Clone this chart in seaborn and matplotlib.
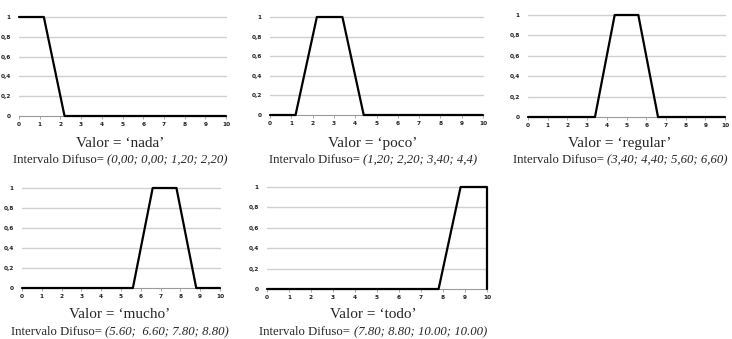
import numpy as np
import pandas as pd
import seaborn as sns
import matplotlib.pyplot as plt

# Membership functions (trapezoids) for each linguistic value
labels = ["nada", "poco", "regular", "mucho", "todo"]
x_nada = [0, 1.2, 2.2, 10]
y_nada = [1, 1, 0, 0]
x_poco = [0, 1.2, 2.2, 3.4, 4.4, 10]
y_poco = [0, 0, 1, 1, 0, 0]
x_regular = [0, 3.4, 4.4, 5.6, 6.6, 10]
y_regular = [0, 0, 1, 1, 0, 0]
x_mucho = [0, 5.6, 6.6, 7.8, 8.8, 10]
y_mucho = [0, 0, 1, 1, 0, 0]
x_todo = [0, 7.8, 8.8, 10, 10]
y_todo = [0, 0, 1, 1, 0]
intervals = ["(0,00; 0,00; 1,20; 2,20)",
             "(1,20; 2,20; 3,40; 4,4)",
             "(3,40; 4,40; 5,60; 6,60)",
             "(5.60;  6.60; 7.80; 8.80)",
             "(7.80; 8.80; 10.00; 10.00)"]
xticks = list(range(0, 11))
yticks = [0, 0.2, 0.4, 0.6, 0.8, 1]
ytick_labels = ["0", "0,2", "0,4", "0,6", "0,8", "1"]

series = [(x_nada, y_nada), (x_poco, y_poco), (x_regular, y_regular),
          (x_mucho, y_mucho), (x_todo, y_todo)]

sns.set_style("white")

W, H = 732, 339
fig = plt.figure(figsize=(W / 100, H / 100), dpi=100)

# axes boxes in pixels: left, right, top (y=1), bottom (y=0)
boxes = [(19, 226, 17, 116), (270, 483, 17, 115), (528, 725, 15, 117),
         (22, 220, 188, 288), (267, 487, 187, 289)]
# title / subtitle centres in pixels
title_pos = [(120, 143, 160), (373, 143, 160), (620, 143, 160),
             (120, 314, 332), (373, 314, 332)]

serif = "Liberation Serif"

for i, (lab, (xs, ys)) in enumerate(zip(labels, series)):
    l, r, t, b = boxes[i]
    ax = fig.add_axes([l / W, 1 - b / H, (r - l) / W, (b - t) / H])
    df = pd.DataFrame({"x": xs, "y": ys})
    sns.lineplot(data=df, x="x", y="y", ax=ax, color="black", linewidth=1.6,
                 estimator=None, sort=False, clip_on=False, zorder=5)
    ax.set_xlim(0, 10)
    ax.set_ylim(0, 1)
    ax.set_xticks(xticks)
    ax.set_xticklabels([str(v) for v in xticks])
    ax.set_yticks(yticks)
    ax.set_yticklabels(ytick_labels)
    ax.set_xlabel("")
    ax.set_ylabel("")
    for yv in yticks[1:]:
        ax.axhline(yv, color="#d0d0d0", linewidth=1.0, zorder=1, clip_on=False)
    for s in ["top", "right", "left"]:
        ax.spines[s].set_visible(False)
    ax.spines["bottom"].set_color("#9a9a9a")
    ax.spines["bottom"].set_linewidth(0.8)
    ax.tick_params(axis="x", length=2, width=0.6, color="#9a9a9a", pad=2,
                   labelsize=4.2, labelcolor="#222222", bottom=True)
    ax.tick_params(axis="y", length=0, pad=6, labelsize=4.2, labelcolor="#222222")
    for tl in ax.get_xticklabels() + ax.get_yticklabels():
        tl.set_fontweight("bold")
    ax.patch.set_alpha(0)

    cx, ty, sy = title_pos[i]
    fig.text(cx / W, 1 - ty / H, "Valor = \u2018" + lab + "\u2019", ha="center",
             va="center", fontsize=11, family=serif)

# subtitles: normal prefix + italic interval, centred together
fig.canvas.draw()
renderer = fig.canvas.get_renderer()
for i in range(5):
    cx, ty, sy = title_pos[i]
    t1 = fig.text(0, 1 - sy / H, "Intervalo Difuso= ", ha="left", va="center",
                  fontsize=9.2, family=serif)
    t2 = fig.text(0, 1 - sy / H, intervals[i], ha="left", va="center",
                  fontsize=9.2, family=serif, style="italic")
    w1 = t1.get_window_extent(renderer).width
    w2 = t2.get_window_extent(renderer).width
    x0 = min(cx - (w1 + w2) / 2, W - 4 - (w1 + w2))
    t1.set_x(x0 / W)
    t2.set_x((x0 + w1) / W)

fig.savefig("out.png", dpi=100)
